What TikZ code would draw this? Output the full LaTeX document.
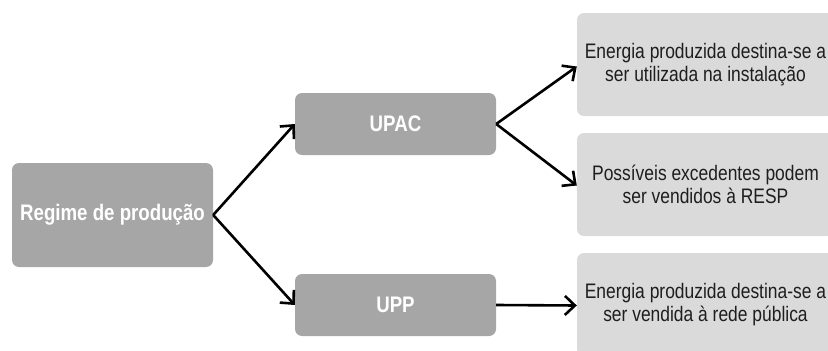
\documentclass[tikz,border=0pt]{standalone}
\usepackage{fontspec}
\setmainfont{Liberation Sans}[FakeStretch=0.83]
\usepackage{tikz}
\usetikzlibrary{arrows.meta}
\usetikzlibrary{positioning}

\definecolor{regimegray}{HTML}{A6A6A6}
\definecolor{notegray}{HTML}{DADADA}
\definecolor{notetext}{HTML}{1E1E1E}

\begin{document}
\begin{tikzpicture}[x=1pt,y=-1pt,
  regime/.style={fill=regimegray, rounded corners=7pt, inner sep=0pt,
    text=white, font=\fontsize{22.5}{25}\selectfont\bfseries,
    minimum width=201pt},
  note/.style={fill=notegray, rounded corners=7pt, inner sep=0pt,
    text=notetext, align=center, font=\fontsize{21}{23}\selectfont,
    minimum width=257pt, minimum height=103pt},
  flow/.style={-{Straight Barb[length=10pt,width=19pt]}, line width=2.6pt}]
\useasboundingbox (0,0) rectangle (828,351);
\clip (0,0) rectangle (828,351);
% regime de producao
\node[regime, minimum height=104pt] (regime) at (112.5,215) {Regime de produção};
\node[regime, minimum height=62pt] (upac) at (395.5,124) {UPAC};
\node[regime, minimum height=62pt] (upp) at (395.5,305) {UPP};
% notas
\node[note] (consumo) at (705.5,64.5) {Energia produzida destina-se a\\ser utilizada na instalação};
\node[note] (excedente) at (705.5,184.5) {Possíveis excedentes podem\\ser vendidos à RESP};
\node[note] (venda) at (705.5,304.5) {Energia produzida destina-se a\\ser vendida à rede pública};
% ligacoes
\draw[flow] (regime.east) -- (upac.west);
\draw[flow] (regime.east) -- (upp.west);
\draw[flow] (upac.east) -- ([yshift=-2pt]consumo.west);
\draw[flow] (upac.east) -- ([yshift=-1pt]excedente.west);
\draw[flow] (upp.east) -- ([yshift=-1pt]venda.west);
\end{tikzpicture}
\end{document}
